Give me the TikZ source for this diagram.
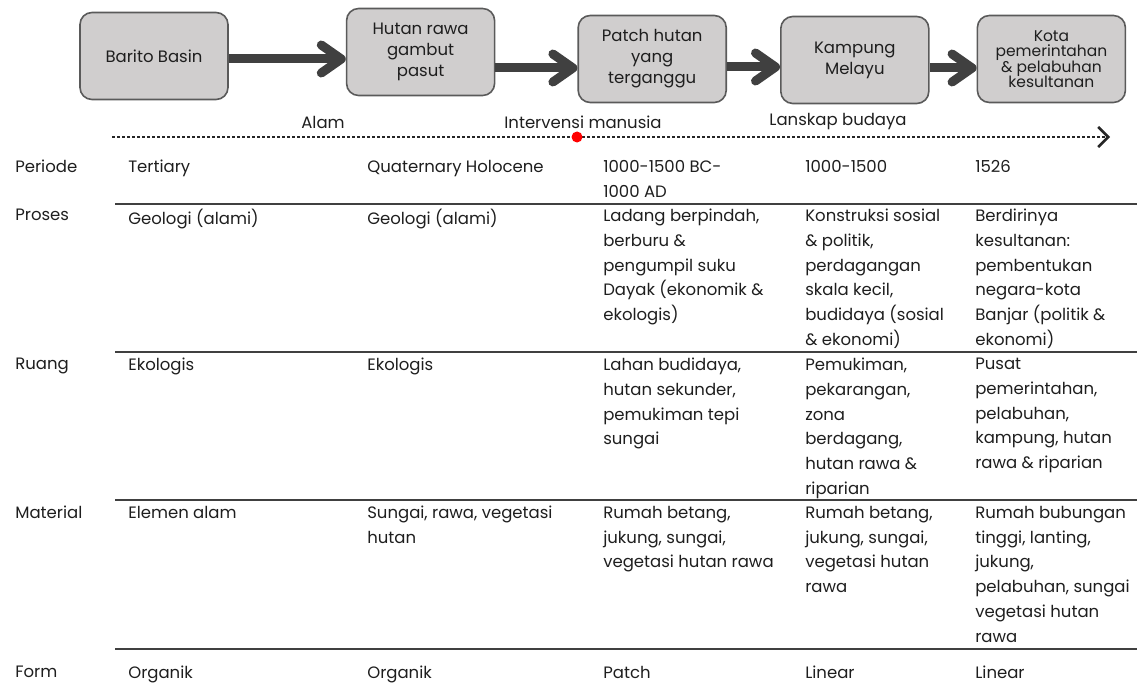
\documentclass[tikz,border=0pt]{standalone}
\usepackage{fontspec}
\setmainfont{Poppins}
\usepackage{tikz}
\usetikzlibrary{arrows,arrows.meta,positioning}
\definecolor{kotak}{HTML}{D0CECE}
\definecolor{tepi}{HTML}{5A5A5A}
\definecolor{panah}{HTML}{404040}
\definecolor{teks}{HTML}{1E1E1E}
\newcommand{\isi}{\fontsize{16.5}{24.7}\selectfont}

\begin{document}
\begin{tikzpicture}[x=1pt,y=-1pt,node distance=117pt,semithick]
		\tikzstyle{tahap}=[draw=tepi,fill=kotak,rounded corners=12pt,line width=1.6pt,minimum width=148pt,minimum height=87pt,align=center,text=teks,font=\fontsize{16.5}{21}\selectfont]
		\tikzstyle{alir}=[draw=panah,line width=9pt,-{Straight Barb[length=20pt,width=28pt,line width=9pt,round]}]
		\tikzstyle{waktu}=[draw=black!85,line width=2.6pt,dash pattern=on 2.6pt off 2.4pt,-{Straight Barb[length=10pt,width=20pt,line width=2.5pt]}]
		\tikzstyle{ket}=[font=\isi,text=teks]
		\tikzstyle{sel}=[anchor=north west,align=left,inner sep=0pt,font=\isi,text=teks]
		\tikzstyle{garis}=[draw=panah,line width=1.3pt]

		\useasboundingbox (0,0) rectangle (1137,698);

		% alur perubahan lanskap
		\node[tahap] (basin) at (154,56) {Barito Basin};
		\node[tahap] (gambut) [right=117pt of basin,yshift=4pt] {Hutan rawa\\gambut\\pasut};
		\node[tahap] (patch) [right=82pt of gambut,yshift=-7pt] {Patch hutan\\yang\\terganggu};
		\node[tahap] (kampung) [right=53pt of patch,yshift=-1pt] {Kampung\\Melayu};
		\node[tahap,font=\fontsize{15.5}{15.5}\selectfont] (kota) [right=47pt of kampung,yshift=1pt] {Kota\\pemerintahan\\\& pelabuhan\\kesultanan};

		\draw[alir] ([yshift=-3pt]basin.east) -- ([yshift=-3pt]basin.east -| gambut.west);
		\draw[alir] ([yshift=-16pt]gambut.east) -- ([yshift=-16pt]gambut.east -| patch.west);
		\draw[alir] ([yshift=-8pt]patch.east) -- ([yshift=-8pt]patch.east -| kampung.west);
		\draw[alir] ([yshift=-8pt]kampung.east) -- ([yshift=-8pt]kampung.east -| kota.west);

		% garis waktu
		\coordinate (awal) at (112,137);
		\coordinate (akhir) at (1110,137);
		\draw[waktu] (awal) -- (akhir);
		\node[ket] (alam) at (323,122) {Alam};
		\node[ket] (intervensi) at (583,122) {Intervensi manusia};
		\node[ket] (budaya) at (838,122) {Lanskap budaya};
		\node[circle,fill=red,inner sep=0pt,minimum size=11pt] (mulai) at (577,137) {};

		% tabel
		\draw[garis] (115,204) -- (1137,204);
		\draw[garis] (115,352) -- (1137,352);
		\draw[garis] (115,500) -- (1137,500);
		\draw[garis] (115,649) -- (1137,649);

		\node[sel] (periode) at (15,160) {Periode};
		\node[sel] (p1) at (128,160) {Tertiary};
		\node[sel] (p2) at (367,160) {Quaternary Holocene};
		\node[sel] (p3) at (603,160) {1000-1500 BC-\\1000 AD};
		\node[sel] (p4) at (805,160) {1000-1500};
		\node[sel] (p5) at (975,160) {1526};

		\node[sel] (proses) at (15,209) {Proses};
		\node[sel] (s1) at (128,209) {Geologi (alami)};
		\node[sel] (s2) at (367,209) {Geologi (alami)};
		\node[sel] (s3) at (603,209) {Ladang berpindah,\\berburu \&\\pengumpil suku\\Dayak (ekonomik \&\\ekologis)};
		\node[sel] (s4) at (805,209) {Konstruksi sosial\\\& politik,\\perdagangan\\skala kecil,\\budidaya (sosial\\\& ekonomi)};
		\node[sel] (s5) at (975,209) {Berdirinya\\kesultanan:\\pembentukan\\negara-kota\\Banjar (politik \&\\ekonomi)};

		\node[sel] (ruang) at (15,358) {Ruang};
		\node[sel] (r1) at (128,358) {Ekologis};
		\node[sel] (r2) at (367,358) {Ekologis};
		\node[sel] (r3) at (603,358) {Lahan budidaya,\\hutan sekunder,\\pemukiman tepi\\sungai};
		\node[sel] (r4) at (805,358) {Pemukiman,\\pekarangan,\\zona\\berdagang,\\hutan rawa \&\\riparian};
		\node[sel] (r5) at (975,358) {Pusat\\pemerintahan,\\pelabuhan,\\kampung, hutan\\rawa \& riparian};

		\node[sel] (material) at (15,506) {Material};
		\node[sel] (m1) at (128,506) {Elemen alam};
		\node[sel] (m2) at (367,506) {Sungai, rawa, vegetasi\\hutan};
		\node[sel] (m3) at (603,506) {Rumah betang,\\jukung, sungai,\\vegetasi hutan rawa};
		\node[sel] (m4) at (805,506) {Rumah betang,\\jukung, sungai,\\vegetasi hutan\\rawa};
		\node[sel] (m5) at (975,506) {Rumah bubungan\\tinggi, lanting,\\jukung,\\pelabuhan, sungai\\vegetasi hutan\\rawa};

		\node[sel] (form) at (15,666) {Form};
		\node[sel] (f1) at (128,666) {Organik};
		\node[sel] (f2) at (367,666) {Organik};
		\node[sel] (f3) at (603,666) {Patch};
		\node[sel] (f4) at (805,666) {Linear};
		\node[sel] (f5) at (975,666) {Linear};
	\end{tikzpicture}
\end{document}
